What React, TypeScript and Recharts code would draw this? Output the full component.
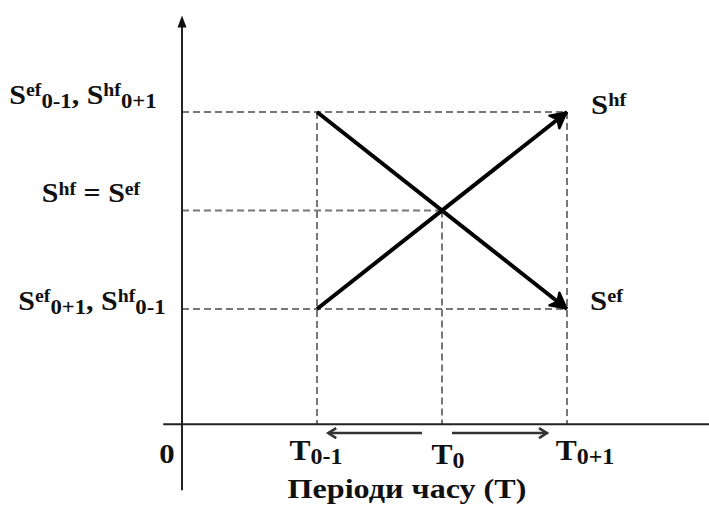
import { ComposedChart, XAxis, YAxis, Line, Scatter } from 'recharts';

type Part = { t: string; sup?: string; sub?: string };

// time periods on the horizontal axis: T0-1, T0, T0+1
const periods = [1, 2, 3];
const periodNames: Part[][] = [
  [{ t: 'T', sub: '0-1' }],
  [{ t: 'T', sub: '0' }],
  [{ t: 'T', sub: '0+1' }],
];

// S levels on the vertical axis, low -> high
const levels = [1, 2, 3];
const levelNames: Part[][] = [
  [{ t: 'S', sup: 'ef', sub: '0+1' }, { t: ', ' }, { t: 'S', sup: 'hf', sub: '0-1' }],
  [{ t: 'S', sup: 'hf' }, { t: ' = ' }, { t: 'S', sup: 'ef' }],
  [{ t: 'S', sup: 'ef', sub: '0-1' }, { t: ', ' }, { t: 'S', sup: 'hf', sub: '0+1' }],
];

// the two series
const sef = [
  { x: 1, y: 3 },
  { x: 3, y: 1 },
];
const shf = [
  { x: 1, y: 1 },
  { x: 3, y: 3 },
];
const seriesNames: Part[][] = [[{ t: 'S', sup: 'ef' }], [{ t: 'S', sup: 'hf' }]];

// shift arrows under the time axis (T0 -> T0-1, T0 -> T0+1)
const shiftBack = [
  { x: 1.84, y: -0.26 },
  { x: 1.09, y: -0.26 },
];
const shiftForward = [
  { x: 2.08, y: -0.26 },
  { x: 2.84, y: -0.26 },
];

const axisTitle = 'Періоди часу (Т)';
const originName = '0';

// where the drawn axes cross, and how far they run
const origin = { x: -0.08, y: -0.17 };
const xAxisFrom = -0.23;
const yAxisFrom = -0.84;
const yAxisTip = 3.98;
const X_DOMAIN: [number, number] = [-1.536, 4.136];
const Y_DOMAIN: [number, number] = [-0.99, 4.137];

const FONT = '"Liberation Serif", "Times New Roman", Times, serif';

function Rich({
  x,
  y,
  parts,
  size,
  anchor,
  stretch,
}: {
  x: number;
  y: number;
  parts: Part[];
  size: number;
  anchor: 'start' | 'middle' | 'end';
  stretch: number;
}) {
  const segs: { text: string; size: number; shift: number }[] = [];
  parts.forEach((p) => {
    segs.push({ text: p.t, size, shift: 0 });
    if (p.sup) segs.push({ text: p.sup, size: size * 0.66, shift: -size * 0.27 });
    if (p.sub) segs.push({ text: p.sub, size: size * 0.76, shift: size * 0.14 });
  });
  let cur = 0;
  return (
    <g transform={`translate(${x},${y}) scale(${stretch},1)`}>
      <text
        textAnchor={anchor}
        fontWeight="bold"
        fill="#111"
        fontSize={size}
        style={{ whiteSpace: 'pre', fontFamily: FONT }}
      >
        {segs.map((s, i) => {
          const dy = s.shift - cur;
          cur = s.shift;
          return (
            <tspan key={i} dy={dy} fontSize={s.size}>
              {s.text}
            </tspan>
          );
        })}
      </text>
    </g>
  );
}

// label offsets in px from their anchor point
const levelOffsets = [
  { dx: -90, dy: 1 },
  { dx: -91, dy: -8 },
  { dx: -99, dy: -8 },
];
const periodOffsets = [
  { dx: -1, dy: 36 },
  { dx: 6, dy: 40 },
  { dx: 18, dy: 36 },
];
const seriesOffsets = [
  { dx: 23, dy: 1 },
  { dx: 24, dy: 2 },
];

const guide = { stroke: '#777', strokeWidth: 2, strokeDasharray: '7 4' };
const axisLine = { stroke: '#222', strokeWidth: 2 };

export default function App() {
  const top = levels[2];
  const mid = levels[1];
  const low = levels[0];
  const [tPrev, tNow, tNext] = periods;

  // dashed helper lines
  const guides = [
    [{ x: origin.x, y: top }, { x: tNext, y: top }],
    [{ x: origin.x, y: mid }, { x: tNow, y: mid }],
    [{ x: origin.x, y: low }, { x: tNext, y: low }],
    [{ x: tPrev, y: top }, { x: tPrev, y: origin.y }],
    [{ x: tNow, y: mid }, { x: tNow, y: origin.y }],
    [{ x: tNext, y: top }, { x: tNext, y: origin.y }],
  ];

  const levelLabelData = levels.map((y, i) => ({ x: origin.x, y, i }));
  const periodLabelData = periods.map((x, i) => ({ x, y: origin.y, i }));
  const seriesLabelData = [
    { x: tNext, y: sef[1].y, i: 0 },
    { x: tNext, y: shf[1].y, i: 1 },
  ];

  return (
    <div style={{ position: 'absolute', left: 0, top: 0, background: '#fff' }}>
      <ComposedChart width={709} height={505} margin={{ top: 0, right: 0, bottom: 0, left: 0 }}>
        <defs>
          <marker
            id="bigArrow"
            markerUnits="userSpaceOnUse"
            markerWidth="30"
            markerHeight="30"
            viewBox="-20 -15 30 30"
            refX="0"
            refY="0"
            orient="auto"
            style={{ overflow: 'visible' }}
          >
            <path d="M-16,-8 L-1,0 L-16,8 L-12,0 Z" fill="#000" stroke="#000" strokeWidth="2.5" strokeLinejoin="round" />
          </marker>
          <marker
            id="smallArrow"
            markerUnits="userSpaceOnUse"
            markerWidth="20"
            markerHeight="20"
            viewBox="-12 -10 20 20"
            refX="0"
            refY="0"
            orient="auto"
            style={{ overflow: 'visible' }}
          >
            <path d="M-8,-5 L0,0 L-8,5" fill="none" stroke="#333" strokeWidth="2.5" />
          </marker>
        </defs>
        <XAxis dataKey="x" type="number" domain={X_DOMAIN} allowDataOverflow hide />
        <YAxis dataKey="y" type="number" domain={Y_DOMAIN} allowDataOverflow hide />

        {guides.map((g, i) => (
          <Line
            key={`g${i}`}
            data={g}
            dataKey="y"
            {...guide}
            dot={false}
            activeDot={false}
            isAnimationActive={false}
          />
        ))}

        <Line
          data={[
            { x: xAxisFrom, y: origin.y },
            { x: X_DOMAIN[1], y: origin.y },
          ]}
          dataKey="y"
          {...axisLine}
          dot={false}
          activeDot={false}
          isAnimationActive={false}
        />
        <Line
          data={[
            { x: origin.x, y: yAxisFrom },
            { x: origin.x, y: yAxisTip - 0.08 },
          ]}
          dataKey="y"
          {...axisLine}
          dot={false}
          activeDot={false}
          isAnimationActive={false}
        />
        <Scatter
          data={[{ x: origin.x, y: yAxisTip }]}
          isAnimationActive={false}
          shape={(p: any) => (
            <path d={`M${p.cx},${p.cy} L${p.cx - 4.5},${p.cy + 12} L${p.cx + 4.5},${p.cy + 12} Z`} fill="#111" />
          )}
        />

        <Line
          data={sef}
          dataKey="y"
          stroke="#000"
          strokeWidth={4}
          markerEnd="url(#bigArrow)"
          dot={false}
          activeDot={false}
          isAnimationActive={false}
        />
        <Line
          data={shf}
          dataKey="y"
          stroke="#000"
          strokeWidth={4}
          markerEnd="url(#bigArrow)"
          dot={false}
          activeDot={false}
          isAnimationActive={false}
        />

        <Line
          data={shiftBack}
          dataKey="y"
          stroke="#333"
          strokeWidth={2.5}
          markerEnd="url(#smallArrow)"
          dot={false}
          activeDot={false}
          isAnimationActive={false}
        />
        <Line
          data={shiftForward}
          dataKey="y"
          stroke="#333"
          strokeWidth={2.5}
          markerEnd="url(#smallArrow)"
          dot={false}
          activeDot={false}
          isAnimationActive={false}
        />

        <Scatter
          data={levelLabelData}
          isAnimationActive={false}
          shape={(p: any) => {
            const o = levelOffsets[p.payload.i];
            return (
              <Rich
                x={p.cx + o.dx}
                y={p.cy + o.dy}
                parts={levelNames[p.payload.i]}
                size={28}
                anchor="middle"
                stretch={1.07}
              />
            );
          }}
        />
        <Scatter
          data={periodLabelData}
          isAnimationActive={false}
          shape={(p: any) => {
            const o = periodOffsets[p.payload.i];
            return (
              <Rich
                x={p.cx + o.dx}
                y={p.cy + o.dy}
                parts={periodNames[p.payload.i]}
                size={30}
                anchor="middle"
                stretch={1.05}
              />
            );
          }}
        />
        <Scatter
          data={seriesLabelData}
          isAnimationActive={false}
          shape={(p: any) => {
            const o = seriesOffsets[p.payload.i];
            return (
              <Rich
                x={p.cx + o.dx}
                y={p.cy + o.dy}
                parts={seriesNames[p.payload.i]}
                size={28}
                anchor="start"
                stretch={1.1}
              />
            );
          }}
        />
        <Scatter
          data={[{ x: origin.x, y: origin.y }]}
          isAnimationActive={false}
          shape={(p: any) => (
            <g>
              <Rich x={p.cx - 15} y={p.cy + 39} parts={[{ t: originName }]} size={28} anchor="middle" stretch={1.1} />
              <Rich x={p.cx + 225} y={p.cy + 74} parts={[{ t: axisTitle }]} size={27} anchor="middle" stretch={1.19} />
            </g>
          )}
        />
      </ComposedChart>
    </div>
  );
}
